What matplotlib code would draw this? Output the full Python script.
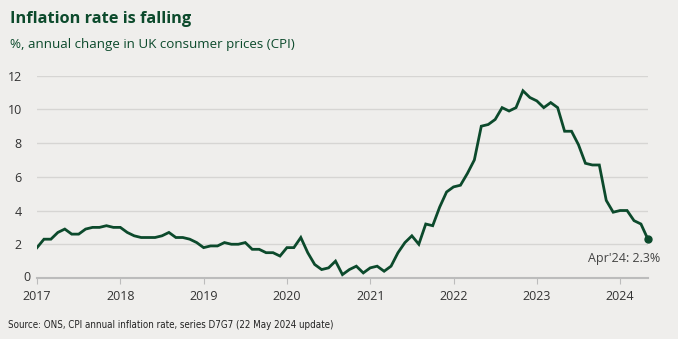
import numpy as np
import matplotlib.pyplot as plt

# monthly CPI, Jan 2017 - Apr 2024 (chart has one extra point in early 2020)
cpi_2017 = [1.8, 2.3, 2.3, 2.7, 2.9, 2.6, 2.6, 2.9, 3.0, 3.0, 3.1, 3.0]
cpi_2018 = [3.0, 2.7, 2.5, 2.4, 2.4, 2.4, 2.5, 2.7, 2.4, 2.4, 2.3, 2.1]
cpi_2019 = [1.8, 1.9, 1.9, 2.1, 2.0, 2.0, 2.1, 1.7, 1.7, 1.5, 1.5, 1.3]
cpi_2020 = [1.8, 1.8, 2.4, 1.5, 0.8, 0.5, 0.6, 1.0, 0.2, 0.5, 0.7, 0.3, 0.6]
cpi_2021 = [0.7, 0.4, 0.7, 1.5, 2.1, 2.5, 2.0, 3.2, 3.1, 4.2, 5.1, 5.4]
cpi_2022 = [5.5, 6.2, 7.0, 9.0, 9.1, 9.4, 10.1, 9.9, 10.1, 11.1, 10.7, 10.5]
cpi_2023 = [10.1, 10.4, 10.1, 8.7, 8.7, 7.9, 6.8, 6.7, 6.7, 4.6, 3.9, 4.0]
cpi_2024 = [4.0, 3.4, 3.2, 2.3]

years = [2017, 2018, 2019, 2020, 2021, 2022, 2023, 2024]
yticks = [0, 2, 4, 6, 8, 10, 12]

cpi = np.array(cpi_2017 + cpi_2018 + cpi_2019 + cpi_2020 + cpi_2021 + cpi_2022 + cpi_2023 + cpi_2024)
x = 2017 + np.arange(len(cpi)) / 12.0

bg = '#efeeec'
green = '#0c4a2c'

fig = plt.figure(figsize=(6.78, 3.39), dpi=100, facecolor=bg)
ax = fig.add_axes([0.0546, 0.18, 0.901, 0.597], facecolor=bg)

ax.plot(x, cpi, color=green, linewidth=2.0, solid_joinstyle='miter', zorder=3)
ax.plot(x[-1], cpi[-1], 'o', color=green, markersize=5, zorder=4, clip_on=False)
ax.text(x[-1] + 0.15, cpi[-1] - 0.75, "Apr'24: 2.3%", ha='right', va='top',
        fontsize=9, color='#444444', family='Open Sans')

ax.set_xlim(2017, x[-1])
ax.set_ylim(0, 12)
ax.set_yticks(yticks[1:])
ax.set_xticks(years)
ax.set_xticklabels([str(y) for y in years])
ax.grid(axis='y', color='#d6d5d3', linewidth=1.0)
ax.set_axisbelow(True)

for s in ['top', 'right', 'left']:
    ax.spines[s].set_visible(False)
ax.spines['bottom'].set_color('#bcbcbc')
ax.spines['bottom'].set_linewidth(1.5)

ax.tick_params(axis='x', direction='out', length=4, color='#bcbcbc', pad=5,
               labelsize=9, labelcolor='#333333')
ax.tick_params(axis='y', length=0, pad=11, labelsize=9, labelcolor='#333333')
for lab in ax.get_xticklabels() + ax.get_yticklabels():
    lab.set_family('Open Sans')
# "0" label sits at axis line
ax.text(-0.011, 0, '0', transform=ax.get_yaxis_transform(), ha='right', va='center',
        fontsize=9, color='#333333', family='Open Sans')
ax.set_yticklabels([str(v) for v in yticks[1:]])

fig.text(0.015, 0.945, 'Inflation rate is falling', fontsize=11.8, fontweight='bold',
         color=green, family='Open Sans', va='center')
fig.text(0.015, 0.87, '%, annual change in UK consumer prices (CPI)', fontsize=9.6,
         color=green, family='Open Sans', va='center')
fig.text(0.012, 0.04, 'Source: ONS, CPI annual inflation rate, series D7G7 (22 May 2024 update)',
         fontsize=7, color='#222222', family='DejaVu Sans', fontstretch='condensed',
         va='center')

fig.savefig('out.png', dpi=100, facecolor=bg)
